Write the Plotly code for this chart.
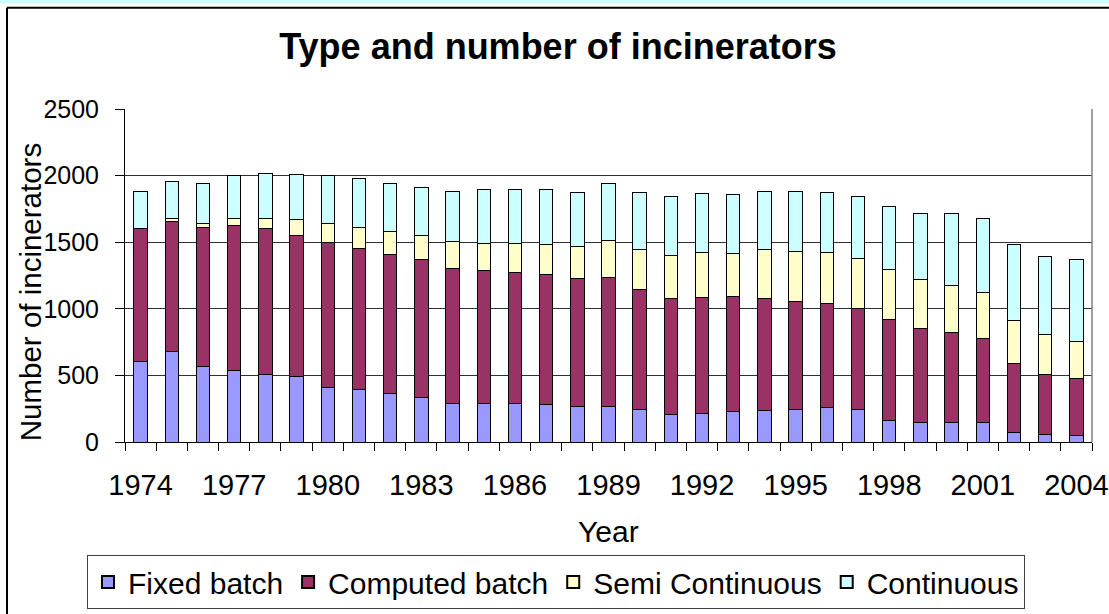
import plotly.graph_objects as go

years = list(range(1974, 2005))
fixed_batch = [604, 679, 564, 534, 509, 494, 409, 394, 364, 334,
               290, 290, 290, 282, 267, 267, 245, 205, 212, 227,
               237, 245, 260, 245, 160, 145, 145, 145, 75, 57, 50]
computed_batch = [996, 973, 1043, 1088, 1091, 1059, 1089, 1056, 1041, 1036,
                  1013, 995, 980, 973, 959, 966, 903, 876, 876, 869,
                  841, 811, 778, 756, 759, 704, 674, 629, 514, 447, 424]
semi_continuous = [0, 28, 35, 53, 75, 114, 139, 157, 172, 183,
                   200, 208, 223, 230, 244, 282, 300, 319, 335, 319,
                   367, 377, 385, 377, 376, 369, 359, 352, 322, 300, 282]
continuous = [277, 279, 302, 324, 344, 345, 362, 375, 360, 361,
              381, 406, 406, 407, 400, 422, 422, 440, 439, 440,
              439, 444, 447, 462, 475, 499, 539, 551, 574, 589, 614]
tick_years = list(range(1974, 2005, 3))
y_ticks = [0, 500, 1000, 1500, 2000, 2500]

series = [
    ("Fixed batch", fixed_batch, "#9999FF"),
    ("Computed batch", computed_batch, "#993366"),
    ("Semi Continuous", semi_continuous, "#FFFFCC"),
    ("Continuous", continuous, "#CCFFFF"),
]

FONT = "Liberation Sans, Arial, sans-serif"

fig = go.Figure()
for name, vals, col in series:
    fig.add_trace(go.Bar(
        x=years, y=vals, name=name,
        marker=dict(color=col, line=dict(color="black", width=1)),
    ))

W, H = 1109, 614
L, R, T, B = 125, 1092, 108.5, 442
pw, ph = R - L, B - T

def px(xp):
    return (xp - L) / pw

def py(yp):
    return (B - yp) / ph

fig.update_layout(
    width=W, height=H,
    barmode="stack", bargap=0.57,
    paper_bgcolor="white", plot_bgcolor="white",
    margin=dict(l=L, r=W - R, t=T, b=H - B, pad=0, autoexpand=False),
    font=dict(family=FONT, color="black"),
    title=dict(text="<b>Type and number of incinerators</b>",
               font=dict(size=36, family=FONT, color="black"),
               x=px(558), xref="paper", xanchor="center",
               y=1 - 46 / H, yref="container", yanchor="middle"),
    showlegend=True,
    legend=dict(orientation="h", x=px(556), xanchor="center",
                yref="container", y=1 - 555 / H, yanchor="top",
                font=dict(size=30, family=FONT),
                bordercolor="#404040", borderwidth=1,
                bgcolor="white", traceorder="normal",
                itemsizing="constant", tracegroupgap=0),
    xaxis=dict(
        range=[1973.5, 2004.5], tickmode="array", tickvals=tick_years,
        ticktext=[str(y) for y in tick_years],
        ticks="", showgrid=False, zeroline=False, automargin=False,
        showline=True, linecolor="black", linewidth=1,
        tickfont=dict(size=29, family=FONT),
        ticklabelstandoff=17,
        minor=dict(ticks="outside", tick0=1973.5, dtick=1, ticklen=8,
                   tickcolor="black", tickwidth=1, showgrid=False),
    ),
    yaxis=dict(
        range=[0, 2500], tickmode="array", tickvals=y_ticks,
        ticks="outside", ticklen=9, tickcolor="black", automargin=False,
        showgrid=True, gridcolor="#303030", gridwidth=1,
        zeroline=False, showline=True, linecolor="black", linewidth=1,
        tickfont=dict(size=25, family=FONT),
        ticklabelstandoff=11,
    ),
    annotations=[
        dict(text="Year", xref="paper", yref="paper", x=px(608), y=py(532),
             xanchor="center", yanchor="middle", showarrow=False,
             font=dict(size=30, family=FONT)),
        dict(text="Number of incinerators", xref="paper", yref="paper",
             x=px(30), y=py(292), xanchor="center", yanchor="middle",
             textangle=-90, showarrow=False, font=dict(size=29.5, family=FONT)),
    ],
    shapes=[
        dict(type="rect", xref="paper", yref="paper",
             x0=px(-20), x1=px(W + 20), y0=py(-5), y1=py(2.5),
             fillcolor="#CCFFFF", line=dict(width=0), layer="above"),
        dict(type="line", xref="paper", yref="paper",
             x0=px(7), x1=px(W + 30), y0=py(7), y1=py(7),
             line=dict(color="black", width=2), layer="above"),
        dict(type="line", xref="paper", yref="paper",
             x0=px(7), x1=px(7), y0=py(7), y1=py(H + 30),
             line=dict(color="black", width=2), layer="above"),
        dict(type="line", xref="paper", yref="paper",
             x0=1, x1=1, y0=0, y1=1, line=dict(color="#808080", width=1.5)),
    ],
)

fig.write_html(
    "out.html",
    config={"displayModeBar": False},
    post_script="document.body.style.margin='0';document.body.style.padding='0';",
)
